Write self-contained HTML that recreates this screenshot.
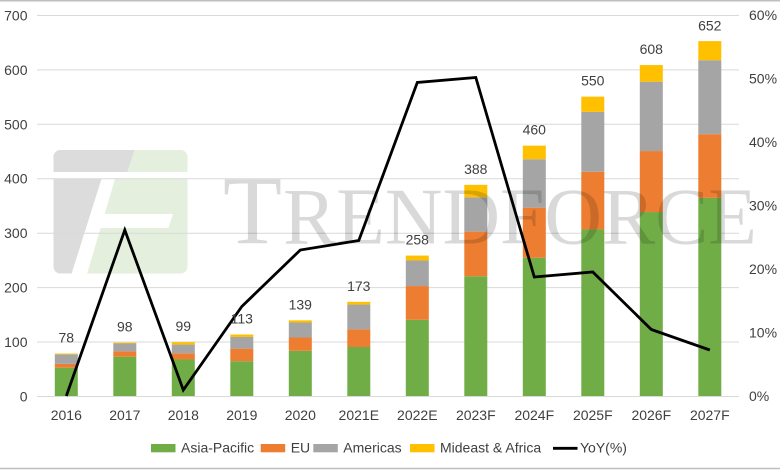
<!DOCTYPE html>
<html>
<head>
<meta charset="utf-8">
<style>
  html,body{margin:0;padding:0;background:#fff;}
  svg{display:block;}
  text{font-family:"Liberation Sans",Arial,sans-serif;}
</style>
</head>
<body>
<svg width="780" height="470" viewBox="0 0 780 470" xmlns="http://www.w3.org/2000/svg">
  <rect x="0" y="0" width="780" height="470" fill="#ffffff"/>
  <!-- borders -->
  <line x1="0" y1="0.75" x2="780" y2="0.75" stroke="#bfbfbf" stroke-width="1.5"/>
  <line x1="0" y1="468.5" x2="780" y2="468.5" stroke="#bfbfbf" stroke-width="1.5"/>

  <!-- watermark logo -->
  <defs>
    <clipPath id="lc"><rect x="53.5" y="150" width="134" height="123.5" rx="7" ry="7"/></clipPath>
  </defs>
  <g clip-path="url(#lc)">
    <rect x="53.5" y="150" width="134" height="123.5" fill="#e5efdd"/>
    <polygon points="53,150 134.5,150 127.2,172 53,172" fill="#dcdcdc"/>
    <rect x="53" y="172" width="135" height="7" fill="#ffffff"/>
    <polygon points="53,179 101.5,179 71.5,274 53,274" fill="#dcdcdc"/>
    <polygon points="101.5,179 115,179 87,274 71.5,274" fill="#ffffff"/>
    <polygon points="100,214 173,214 168.5,228 95.5,228" fill="#ffffff"/>
  </g>

  <!-- gridlines -->
  <g stroke="#d9d9d9" stroke-width="1">
    <line x1="37" y1="15.5" x2="739" y2="15.5"/>
    <line x1="37" y1="69.9" x2="739" y2="69.9"/>
    <line x1="37" y1="124.3" x2="739" y2="124.3"/>
    <line x1="37" y1="178.7" x2="739" y2="178.7"/>
    <line x1="37" y1="233.2" x2="739" y2="233.2"/>
    <line x1="37" y1="287.6" x2="739" y2="287.6"/>
    <line x1="37" y1="342" x2="739" y2="342"/>
    <line x1="37" y1="396.5" x2="739" y2="396.5"/>
  </g>

  <!-- bars -->
  <g>
    <!-- 2016 -->
    <rect x="54.8" y="367.70" width="23" height="28.30" fill="#70ad47"/>
    <rect x="54.8" y="363.89" width="23" height="3.81" fill="#ed7d31"/>
    <rect x="54.8" y="354.36" width="23" height="9.53" fill="#a5a5a5"/>
    <rect x="54.8" y="353.55" width="23" height="0.81" fill="#ffc000"/>
    <!-- 2017 -->
    <rect x="113.3" y="356.81" width="23" height="39.19" fill="#70ad47"/>
    <rect x="113.3" y="351.37" width="23" height="5.44" fill="#ed7d31"/>
    <rect x="113.3" y="343.20" width="23" height="8.17" fill="#a5a5a5"/>
    <rect x="113.3" y="342.66" width="23" height="0.9" fill="#ffc000"/>
    <!-- 2018 -->
    <rect x="171.8" y="359.53" width="23" height="36.47" fill="#70ad47"/>
    <rect x="171.8" y="353.27" width="23" height="6.26" fill="#ed7d31"/>
    <rect x="171.8" y="344.57" width="23" height="8.70" fill="#a5a5a5"/>
    <rect x="171.8" y="342.12" width="23" height="2.45" fill="#ffc000"/>
    <!-- 2019 -->
    <rect x="230.3" y="361.17" width="23" height="34.83" fill="#70ad47"/>
    <rect x="230.3" y="348.65" width="23" height="12.52" fill="#ed7d31"/>
    <rect x="230.3" y="336.95" width="23" height="11.70" fill="#a5a5a5"/>
    <rect x="230.3" y="334.50" width="23" height="2.45" fill="#ffc000"/>
    <!-- 2020 -->
    <rect x="288.8" y="350.82" width="23" height="45.18" fill="#70ad47"/>
    <rect x="288.8" y="337.49" width="23" height="13.33" fill="#ed7d31"/>
    <rect x="288.8" y="322.52" width="23" height="14.97" fill="#a5a5a5"/>
    <rect x="288.8" y="320.34" width="23" height="2.18" fill="#ffc000"/>
    <!-- 2021E -->
    <rect x="347.3" y="347.01" width="23" height="48.99" fill="#70ad47"/>
    <rect x="347.3" y="329.33" width="23" height="17.68" fill="#ed7d31"/>
    <rect x="347.3" y="304.56" width="23" height="24.77" fill="#a5a5a5"/>
    <rect x="347.3" y="301.84" width="23" height="2.72" fill="#ffc000"/>
    <!-- 2022E -->
    <rect x="405.8" y="319.80" width="23" height="76.20" fill="#70ad47"/>
    <rect x="405.8" y="286.05" width="23" height="33.75" fill="#ed7d31"/>
    <rect x="405.8" y="260.47" width="23" height="25.58" fill="#a5a5a5"/>
    <rect x="405.8" y="255.57" width="23" height="4.90" fill="#ffc000"/>
    <!-- 2023F -->
    <rect x="464.3" y="276.26" width="23" height="119.74" fill="#70ad47"/>
    <rect x="464.3" y="231.63" width="23" height="44.63" fill="#ed7d31"/>
    <rect x="464.3" y="197.34" width="23" height="34.29" fill="#a5a5a5"/>
    <rect x="464.3" y="184.82" width="23" height="12.52" fill="#ffc000"/>
    <!-- 2024F -->
    <rect x="522.8" y="257.75" width="23" height="138.25" fill="#70ad47"/>
    <rect x="522.8" y="207.68" width="23" height="50.07" fill="#ed7d31"/>
    <rect x="522.8" y="159.24" width="23" height="48.44" fill="#a5a5a5"/>
    <rect x="522.8" y="145.63" width="23" height="13.61" fill="#ffc000"/>
    <!-- 2025F -->
    <rect x="581.3" y="229.45" width="23" height="166.55" fill="#70ad47"/>
    <rect x="581.3" y="171.75" width="23" height="57.70" fill="#ed7d31"/>
    <rect x="581.3" y="111.88" width="23" height="59.87" fill="#a5a5a5"/>
    <rect x="581.3" y="96.64" width="23" height="15.24" fill="#ffc000"/>
    <!-- 2026F -->
    <rect x="639.8" y="212.03" width="23" height="183.97" fill="#70ad47"/>
    <rect x="639.8" y="151.07" width="23" height="60.96" fill="#ed7d31"/>
    <rect x="639.8" y="81.68" width="23" height="69.39" fill="#a5a5a5"/>
    <rect x="639.8" y="65.07" width="23" height="16.61" fill="#ffc000"/>
    <!-- 2027F -->
    <rect x="698.3" y="197.88" width="23" height="198.12" fill="#70ad47"/>
    <rect x="698.3" y="134.20" width="23" height="63.68" fill="#ed7d31"/>
    <rect x="698.3" y="60.18" width="23" height="74.02" fill="#a5a5a5"/>
    <rect x="698.3" y="41.13" width="23" height="19.05" fill="#ffc000"/>
  </g>

  <!-- watermark text -->
  <g fill="rgba(0,0,0,0.15)" style="font-family:'Liberation Serif','Times New Roman',serif;">
    <text x="223" y="243.5" font-size="97" style="font-family:'Liberation Serif',serif;" textLength="59" lengthAdjust="spacingAndGlyphs">T</text>
    <text x="283" y="243.5" font-size="81" style="font-family:'Liberation Serif',serif;" textLength="474" lengthAdjust="spacingAndGlyphs">RENDFORCE</text>
  </g>

  <!-- YoY line -->
  <polyline fill="none" stroke="#000000" stroke-width="2.8" stroke-linejoin="miter"
    points="66.3,396 124.8,230 183.3,390 241.8,306.5 300.3,250 358.8,240.5 417.3,82.5 475.8,77.5 534.3,277 592.8,272 651.3,329.5 709.8,350"/>

  <!-- total labels -->
  <g font-size="14" fill="#404040" text-anchor="middle">
    <text x="66.3" y="342.5">78</text>
    <text x="124.8" y="331.7">98</text>
    <text x="183.3" y="331.1">99</text>
    <text x="241.8" y="323.5">113</text>
    <text x="300.3" y="309.3">139</text>
    <text x="358.8" y="290.8">173</text>
    <text x="417.3" y="244.6">258</text>
    <text x="475.8" y="173.8">388</text>
    <text x="534.3" y="134.6">460</text>
    <text x="592.8" y="85.6">550</text>
    <text x="651.3" y="54.1">608</text>
    <text x="709.8" y="30.6">652</text>
  </g>

  <!-- left axis labels -->
  <g font-size="14" fill="#404040" text-anchor="end">
    <text x="27.5" y="20.5">700</text>
    <text x="27.5" y="74.9">600</text>
    <text x="27.5" y="129.3">500</text>
    <text x="27.5" y="183.7">400</text>
    <text x="27.5" y="238.2">300</text>
    <text x="27.5" y="292.6">200</text>
    <text x="27.5" y="347">100</text>
    <text x="27.5" y="401.3">0</text>
  </g>

  <!-- right axis labels -->
  <g font-size="14" fill="#404040" text-anchor="start">
    <text x="749" y="20">60%</text>
    <text x="749" y="83.5">50%</text>
    <text x="749" y="147">40%</text>
    <text x="749" y="210.5">30%</text>
    <text x="749" y="274">20%</text>
    <text x="749" y="337.5">10%</text>
    <text x="749" y="401">0%</text>
  </g>

  <!-- x axis labels -->
  <g font-size="14" fill="#404040" text-anchor="middle">
    <text x="66.3" y="420">2016</text>
    <text x="124.8" y="420">2017</text>
    <text x="183.3" y="420">2018</text>
    <text x="241.8" y="420">2019</text>
    <text x="300.3" y="420">2020</text>
    <text x="358.8" y="420">2021E</text>
    <text x="417.3" y="420">2022E</text>
    <text x="475.8" y="420">2023F</text>
    <text x="534.3" y="420">2024F</text>
    <text x="592.8" y="420">2025F</text>
    <text x="651.3" y="420">2026F</text>
    <text x="709.8" y="420">2027F</text>
  </g>

  <!-- legend -->
  <g font-size="14" fill="#404040">
    <rect x="151" y="444" width="24.5" height="8.3" fill="#70ad47"/>
    <text x="181" y="452.5">Asia-Pacific</text>
    <rect x="260.7" y="444" width="24.5" height="8.3" fill="#ed7d31"/>
    <text x="290.7" y="452.5">EU</text>
    <rect x="313.3" y="444" width="24.5" height="8.3" fill="#a5a5a5"/>
    <text x="343.3" y="452.5">Americas</text>
    <rect x="410" y="444" width="24.5" height="8.3" fill="#ffc000"/>
    <text x="440" y="452.5">Mideast &amp; Africa</text>
    <line x1="553" y1="448.3" x2="577.5" y2="448.3" stroke="#000" stroke-width="2.8"/>
    <text x="580" y="452.5">YoY(%)</text>
  </g>
</svg>
</body>
</html>
